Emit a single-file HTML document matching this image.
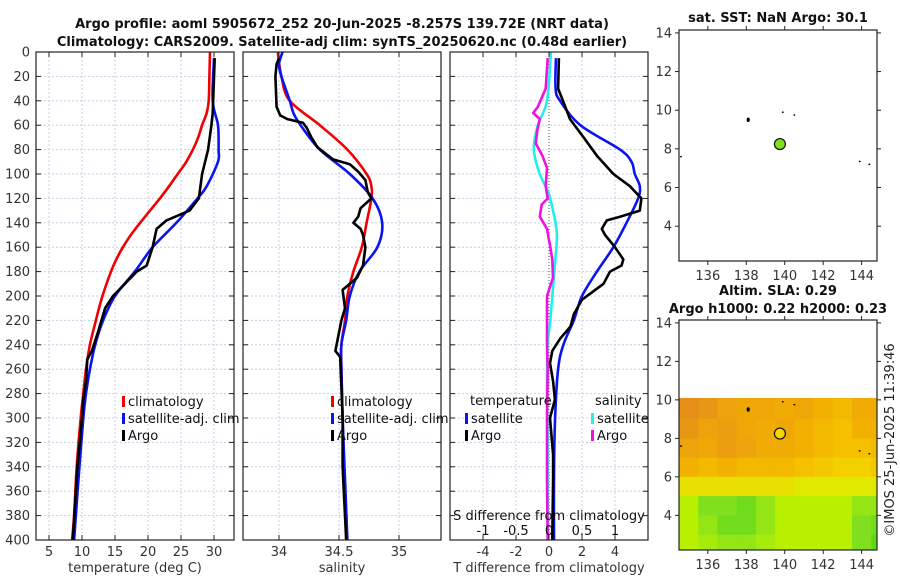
<!DOCTYPE html>
<html><head><meta charset="utf-8"><style>
html,body{margin:0;padding:0;background:#fff;}
svg{display:block;font-family:"DejaVu Sans","Liberation Sans",sans-serif;}
</style></head><body>
<svg id="chart" width="900" height="580" viewBox="0 0 900 580" xmlns="http://www.w3.org/2000/svg">
<g id="titles">
<text x="342" y="28" text-anchor="middle" font-size="13" font-weight="bold" fill="#111">Argo profile: aoml 5905672_252 20-Jun-2025 -8.257S 139.72E (NRT data)</text>
<text x="342" y="46" text-anchor="middle" font-size="13" font-weight="bold" fill="#111">Climatology: CARS2009. Satellite-adj clim: synTS_20250620.nc (0.48d earlier)</text>
<text x="778" y="22" text-anchor="middle" font-size="13" font-weight="bold" fill="#111">sat. SST: NaN Argo: 30.1</text>
<text x="778" y="295" text-anchor="middle" font-size="13" font-weight="bold" fill="#111">Altim. SLA: 0.29</text>
<text x="778" y="313" text-anchor="middle" font-size="13" font-weight="bold" fill="#111">Argo h1000: 0.22 h2000: 0.23</text>
<text transform="translate(894,440) rotate(-90)" text-anchor="middle" font-size="13" fill="#222">©IMOS 25-Jun-2025 11:39:46</text>
</g>
</svg>
<script>
// ---------- data ----------
const depthTicks = [0,20,40,60,80,100,120,140,160,180,200,220,240,260,280,300,320,340,360,380,400];
const tempTicks = [5,10,15,20,25,30];
const salTicks = [34,34.5,35];
const salTickLabels = ["34","34.5","35"];
const tdiffTicks = [-4,-2,0,2,4];
const sdiffTicks = [-1,-0.5,0,0.5,1];
const sdiffTickLabels = ["-1","-0.5","0","0.5","1"];

const tClimDepth = [0,20,40,50,60,70,80,90,100,110,120,130,140,150,160,170,180,200,220,240,260,280,300,340,380,400];
const tClimVal   = [29.4,29.3,29.2,28.9,28.2,27.6,26.8,25.8,24.5,23.2,21.8,20.3,18.8,17.4,16.2,15.2,14.4,13.1,12.1,11.2,10.6,10.2,9.8,9.2,8.8,8.5];
const tSatDepth  = [5,40,60,80,90,110,120,140,160,180,200,220,240,260,280,300,340,400];
const tSatVal    = [30.0,29.8,30.6,30.7,30.6,28.9,27.5,24.3,20.7,18.0,15.0,13.2,12.0,11.2,10.6,10.2,9.6,8.8];
const tArgoDepth = [5,50,60,80,100,120,130,138,145,160,175,180,200,210,230,245,252,270,285,300,340,400];
const tArgoVal   = [30.1,29.8,29.6,29.1,28.2,27.7,26.3,22.8,21.3,20.7,19.8,18.3,14.7,13.5,12.4,11.5,10.8,10.6,10.2,10.0,9.3,8.6];

const sClimDepth = [0,20,40,60,80,100,110,120,140,160,180,200,220,240,260,300,400];
const sClimVal   = [33.99,34.02,34.09,34.34,34.57,34.73,34.77,34.77,34.73,34.69,34.62,34.57,34.55,34.52,34.52,34.53,34.56];
const sSatDepth  = [0,10,20,40,50,60,80,100,120,140,160,180,200,220,240,260,300,350,400];
const sSatVal    = [34.03,34.0,34.02,34.09,34.12,34.18,34.34,34.59,34.78,34.86,34.82,34.67,34.59,34.56,34.52,34.52,34.53,34.55,34.57];
const sArgoDepth = [5,10,20,45,52,55,58,62,70,78,88,92,98,105,115,120,128,135,140,145,150,160,175,185,195,210,220,240,245,250,300,340,400];
const sArgoVal   = [34.0,33.98,33.97,33.98,34.01,34.07,34.20,34.23,34.27,34.32,34.45,34.59,34.66,34.72,34.74,34.77,34.68,34.66,34.62,34.68,34.70,34.72,34.70,34.65,34.53,34.55,34.52,34.48,34.47,34.51,34.53,34.53,34.56];

const dtSatDepth  = [5,30,40,60,80,90,100,110,120,140,160,180,200,220,240,260,300,350,400];
const dtSatVal    = [0.42,0.4,0.67,1.9,4.3,5.0,5.2,5.5,5.4,4.7,3.9,2.9,2.0,1.5,0.87,0.55,0.37,0.3,0.3];
const dtArgoDepth = [5,30,40,55,70,85,100,110,120,130,135,138,145,150,160,170,175,180,190,203,215,225,235,245,255,270,285,300,330,350,400];
const dtArgoVal   = [0.6,0.55,0.85,1.27,2.1,2.9,3.9,4.9,5.6,5.5,4.3,3.5,3.2,3.4,4.0,4.5,4.4,3.7,3.3,2.0,1.5,1.3,0.67,0.2,0.06,0.25,0.36,0.06,0.25,0.25,0.2];
const dsSatDepth  = [0,40,60,80,100,115,130,150,180,220,240,280,320,400];
const dsSatVal    = [0.03,-0.03,-0.17,-0.23,-0.14,-0.01,0.06,0.12,0.08,0.02,-0.02,-0.03,-0.02,-0.02];
const dsArgoDepth = [5,30,45,50,55,65,75,85,95,110,120,125,135,145,160,170,185,200,220,240,260,300,350,400];
const dsArgoVal   = [-0.02,-0.05,-0.17,-0.24,-0.14,-0.18,-0.2,-0.1,-0.03,-0.05,-0.02,-0.11,-0.14,-0.03,0.02,0.05,0.06,-0.03,-0.03,-0.03,-0.02,-0.03,-0.03,-0.02];

const lonTicks = [136,138,140,142,144];
const latTicks = [4,6,8,10,12,14];
const argoLon = 139.75, argoLat = 8.25;
const islandLon = [138.1,139.9,140.5,143.9,144.4,134.6];
const islandLat = [9.5,9.9,9.75,7.35,7.2,7.6];
const slaRowLat = [10.1,9,8,7,6,5,4,3];  // top edge of each row
const slaRows = [
 [0.33,0.32,0.30,0.29,0.29,0.28,0.29,0.27,0.26,0.28,0.28],
 [0.32,0.30,0.31,0.29,0.28,0.29,0.27,0.26,0.25,0.27,0.27],
 [0.30,0.29,0.31,0.30,0.28,0.28,0.27,0.26,0.25,0.25,0.26],
 [0.27,0.26,0.27,0.26,0.26,0.26,0.25,0.24,0.23,0.23,0.24],
 [0.21,0.21,0.21,0.21,0.21,0.21,0.20,0.20,0.20,0.20,0.20],
 [0.17,0.14,0.14,0.13,0.15,0.17,0.17,0.17,0.17,0.15,0.15],
 [0.17,0.15,0.13,0.13,0.15,0.17,0.17,0.17,0.17,0.14,0.13],
 [0.17,0.16,0.15,0.15,0.16,0.17,0.17,0.17,0.17,0.14,0.12]
];
const slaColLon0 = 134.5;

// ---------- helpers ----------
const NS = "http://www.w3.org/2000/svg";
const svg = document.getElementById('chart');
function mk(tag, attrs, parent){const e=document.createElementNS(NS,tag);for(const k in attrs)e.setAttribute(k,attrs[k]);(parent||svg).appendChild(e);return e;}
const TOP=52, BOT=540;
const yD = d => TOP + d*(BOT-TOP)/400;
const P1={x0:36,x1:234}, P2={x0:243,x1:441}, P3={x0:450,x1:648};
const xT = t => 49 + (t-5)*6.6;
const xS = s => 279 + (s-34)*120;
const xDT = t => 549 + t*16.5;
const xDS = s => 549 + s*66;

function panelGrid(P, xs, name){
  const g = mk('g',{});
  
  
  depthTicks.forEach(d=>{ if(d>0&&d<400) mk('line',{x1:P.x0,x2:P.x1,y1:yD(d),y2:yD(d),stroke:'#c9cde6','stroke-width':1,'stroke-dasharray':'2,2'},g);});
  xs.forEach(x=>mk('line',{x1:x,x2:x,y1:TOP,y2:BOT,stroke:'#c9cde6','stroke-width':1,'stroke-dasharray':'2,2'},g));
  return g;
}
function panelFrame(P, xs, name){
  const g = mk('g',{});
  
  
  mk('rect',{x:P.x0,y:TOP,width:P.x1-P.x0,height:BOT-TOP,fill:'none',stroke:'#222','stroke-width':1.2},g);
  depthTicks.forEach(d=>{ mk('line',{x1:P.x0,x2:P.x0+5,y1:yD(d),y2:yD(d),stroke:'#222'},g); mk('line',{x1:P.x1-5,x2:P.x1,y1:yD(d),y2:yD(d),stroke:'#222'},g);});
  xs.forEach(x=>{ mk('line',{x1:x,x2:x,y1:BOT-5,y2:BOT,stroke:'#222'},g); mk('line',{x1:x,x2:x,y1:TOP,y2:TOP+5,stroke:'#222'},g);});
}
function series(dep, val, fx, color, name, smooth){
  const P = dep.map((d,i)=>[fx(val[i]), yD(d)]);
  let dstr = 'M'+P[0][0].toFixed(1)+','+P[0][1].toFixed(1);
  for(let i=0;i<P.length-1;i++){
    if(smooth){
      const p0=P[Math.max(i-1,0)], p1=P[i], p2=P[i+1], p3=P[Math.min(i+2,P.length-1)];
      const c1=[p1[0]+(p2[0]-p0[0])/6, p1[1]+(p2[1]-p0[1])/6];
      const c2=[p2[0]-(p3[0]-p1[0])/6, p2[1]-(p3[1]-p1[1])/6];
      dstr += ' C'+c1[0].toFixed(1)+','+c1[1].toFixed(1)+' '+c2[0].toFixed(1)+','+c2[1].toFixed(1)+' '+p2[0].toFixed(1)+','+p2[1].toFixed(1);
    } else dstr += ' L'+P[i+1][0].toFixed(1)+','+P[i+1][1].toFixed(1);
  }
  const pl = mk('path',{d:dstr,fill:'none',stroke:color,'stroke-width':2.6,'stroke-linejoin':'round'});
  
  
}
function txt(x,y,s,opts,name){
  const t = mk('text',Object.assign({x:x,y:y,'font-size':13,fill:'#333'},opts||{}));
  t.textContent = s;
  
  
  return t;
}
function legendItem(x,y,color,label,name){
  const r = mk('rect',{x:x,y:y-10,width:3,height:11,fill:color});
  
  
  txt(x+6,y,label,{'font-size':13,fill:'#111'},name+'-label');
}

// ---------- panel 1: temperature ----------
panelGrid(P1, tempTicks.map(xT), 'temperature-panel');
series(tClimDepth,tClimVal,xT,'#f00000','temperature-climatology-line',true);
series(tSatDepth,tSatVal,xT,'#0a14f0','temperature-satellite-line',true);
series(tArgoDepth,tArgoVal,xT,'#000','temperature-argo-line',false);
panelFrame(P1, tempTicks.map(xT), 'temperature-panel');
depthTicks.forEach(d=>txt(30,yD(d)+4.5,String(d),{'text-anchor':'end'},'depth-tick-label'));
tempTicks.forEach(t=>txt(xT(t),556,String(t),{'text-anchor':'middle'},'temperature-tick-label'));
txt(135,572,'temperature (deg C)',{'text-anchor':'middle'},'temperature-axis-title');
legendItem(122,406,'#f00000','climatology','temp-legend-climatology');
legendItem(122,423,'#0a14f0','satellite-adj. clim','temp-legend-satellite');
legendItem(122,440,'#000','Argo','temp-legend-argo');

// ---------- panel 2: salinity ----------
panelGrid(P2, salTicks.map(xS), 'salinity-panel');
series(sClimDepth,sClimVal,xS,'#f00000','salinity-climatology-line',true);
series(sSatDepth,sSatVal,xS,'#0a14f0','salinity-satellite-line',true);
series(sArgoDepth,sArgoVal,xS,'#000','salinity-argo-line',false);
panelFrame(P2, salTicks.map(xS), 'salinity-panel');
salTicks.forEach((s,i)=>txt(xS(s),556,salTickLabels[i],{'text-anchor':'middle'},'salinity-tick-label'));
txt(342,572,'salinity',{'text-anchor':'middle'},'salinity-axis-title');
legendItem(331,406,'#f00000','climatology','sal-legend-climatology');
legendItem(331,423,'#0a14f0','satellite-adj. clim','sal-legend-satellite');
legendItem(331,440,'#000','Argo','sal-legend-argo');

// ---------- panel 3: differences ----------
panelGrid(P3, tdiffTicks.filter(t=>t!==0).map(xDT), 'difference-panel');
const zl = mk('line',{x1:549,x2:549,y1:TOP,y2:BOT,stroke:'#555','stroke-width':1,'stroke-dasharray':'1,2'});


series(dsSatDepth,dsSatVal,xDS,'#22eeee','salinity-diff-satellite-line',true);
series(dsArgoDepth,dsArgoVal,xDS,'#f010e0','salinity-diff-argo-line',false);
series(dtSatDepth,dtSatVal,xDT,'#0a14f0','temperature-diff-satellite-line',true);
series(dtArgoDepth,dtArgoVal,xDT,'#000','temperature-diff-argo-line',false);
panelFrame(P3, tdiffTicks.map(xDT), 'difference-panel');
tdiffTicks.forEach(t=>txt(xDT(t),556,String(t),{'text-anchor':'middle'},'tdiff-tick-label'));
txt(549,572,'T difference from climatology',{'text-anchor':'middle'},'tdiff-axis-title');
sdiffTicks.forEach((s,i)=>txt(xDS(s),535,sdiffTickLabels[i],{'text-anchor':'middle',fill:'#111'},'sdiff-tick-label'));
txt(549,520,'S difference from climatology',{'text-anchor':'middle',fill:'#111'},'sdiff-axis-title');
txt(470,405,'temperature',{fill:'#111'},'diff-legend-temperature-heading');
txt(595,405,'salinity',{fill:'#111'},'diff-legend-salinity-heading');
legendItem(465,423,'#0a14f0','satellite','diff-legend-temp-satellite');
legendItem(465,440,'#000','Argo','diff-legend-temp-argo');
legendItem(591,423,'#22eeee','satellite','diff-legend-sal-satellite');
legendItem(591,440,'#f010e0','Argo','diff-legend-sal-argo');

// ---------- maps ----------
const LON0=134.5, LON1=144.8;
const MX0=679, MX1=877;
const xL = lon => MX0 + (lon-LON0)*(MX1-MX0)/(LON1-LON0);
function makeMap(Y0,Y1){
  const LAT1=14.15, LAT0=2.2;
  return lat => Y0 + (LAT1-lat)*(Y1-Y0)/(LAT1-LAT0);
}
function slaColor(v){
  const st=[[0.10,[64,208,16]],[0.14,[128,224,32]],[0.17,[184,240,0]],[0.20,[224,232,0]],[0.23,[245,208,0]],[0.27,[242,176,0]],[0.31,[235,158,16]],[0.35,[222,128,32]]];
  if(v<=st[0][0]) return 'rgb('+st[0][1]+')';
  for(let i=1;i<st.length;i++){ if(v<=st[i][0]){const f=(v-st[i-1][0])/(st[i][0]-st[i-1][0]);const c=st[i-1][1].map((a,k)=>Math.round(a+(st[i][1][k]-a)*f));return 'rgb('+c+')';}}
  return 'rgb('+st[st.length-1][1]+')';
}
function mapAxes(Y0,Y1,yL,name){
  const g = mk('g',{});
  
  
  mk('rect',{x:MX0,y:Y0,width:MX1-MX0,height:Y1-Y0,fill:'none',stroke:'#222','stroke-width':1.2},g);
  lonTicks.forEach(l=>{const x=xL(l);mk('line',{x1:x,x2:x,y1:Y1,y2:Y1+4,stroke:'#222'},g);mk('line',{x1:x,x2:x,y1:Y0-4,y2:Y0,stroke:'#222'},g);
    txt(x,Y1+19,String(l),{'text-anchor':'middle'},name+'-lon-tick-label');});
  latTicks.forEach(l=>{const y=yL(l);mk('line',{x1:MX0-4,x2:MX0,y1:y,y2:y,stroke:'#222'},g);mk('line',{x1:MX1,x2:MX1+4,y1:y,y2:y,stroke:'#222'},g);
    txt(MX0-7,y+4.5,String(l),{'text-anchor':'end'},name+'-lat-tick-label');});
}
function islands(yL,name){
  islandLon.forEach((lo,i)=>{
    const e = mk('ellipse',{cx:xL(lo),cy:yL(islandLat[i]),rx:i===0?1.6:1,ry:i===0?2.2:0.8,fill:'#000'});
    
    
  });
}
// map 1: SST
const yL1 = makeMap(30,261);
islands(yL1,'sst-map');
const c1 = mk('circle',{cx:xL(argoLon),cy:yL1(argoLat),r:5.5,fill:'#7ee01a',stroke:'#111','stroke-width':1.2});


mapAxes(30,261,yL1,'sst-map');
// map 2: SLA
const yL2 = makeMap(320,550);
const slaG = mk('g',{});


slaRows.forEach((row,r)=>{
  const latTop = slaRowLat[r], latBot = r+1<slaRowLat.length ? slaRowLat[r+1] : 2.2;
  row.forEach((v,c)=>{
    const lo0 = slaColLon0 + c, lo1 = Math.min(slaColLon0+c+1, LON1);
    const cell = mk('rect',{x:xL(lo0),y:yL2(latTop),width:xL(lo1)-xL(lo0)+0.5,height:yL2(latBot)-yL2(latTop)+0.5,fill:slaColor(v)},slaG);
    
    
  });
});
islands(yL2,'sla-map');
const c2 = mk('circle',{cx:xL(argoLon),cy:yL2(argoLat),r:5.5,fill:'#f5d400',stroke:'#111','stroke-width':1.2});


mapAxes(320,550,yL2,'sla-map');
</script>
</body></html>
